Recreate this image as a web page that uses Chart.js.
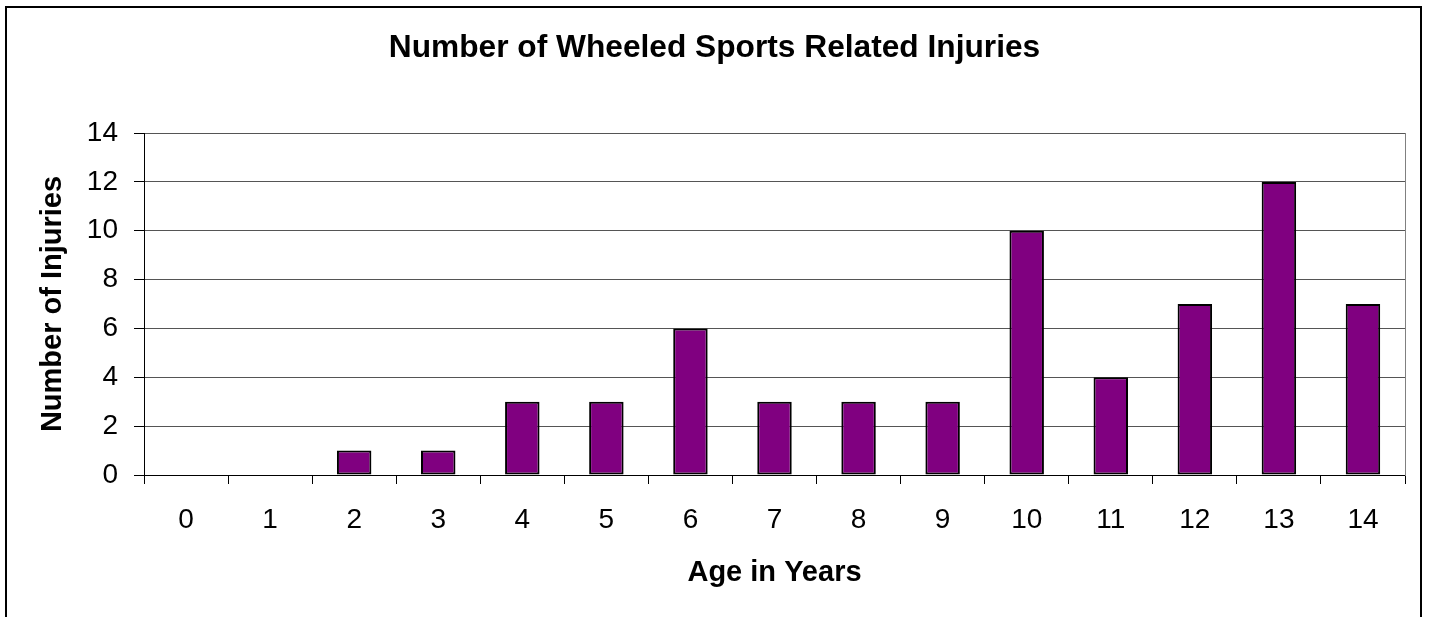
<!DOCTYPE html>
<html>
<head>
<meta charset="utf-8">
<title>Number of Wheeled Sports Related Injuries</title>
<script src="https://cdn.jsdelivr.net/npm/chart.js@4"></script>
<style>
  html, body { margin: 0; padding: 0; background: #fff; overflow: hidden; }
  #wrap { position: relative; width: 1429px; height: 617px; }
  #frame {
    position: absolute; left: 5px; top: 6px; width: 1413px; height: 700px;
    border: 2px solid #000; pointer-events: none;
  }
  canvas { position: absolute; left: 0; top: 0; }
</style>
</head>
<body>
<div id="wrap">
  <canvas id="chart" width="1429" height="617"></canvas>
  <div id="frame"></div>
</div>
<script>
const ages     = ["0", "1", "2", "3", "4", "5", "6", "7", "8", "9", "10", "11", "12", "13", "14"];
const injuries = [0, 0, 1, 1, 3, 3, 6, 3, 3, 3, 10, 4, 7, 12, 7];
const yTicks   = [0, 2, 4, 6, 8, 10, 12, 14];

const FONT = "'Liberation Sans', Arial, sans-serif";

new Chart(document.getElementById("chart"), {
  type: "bar",
  data: {
    labels: ages,
    datasets: [{
      label: "Injuries",
      data: injuries,
      backgroundColor: "#800080",
      borderColor: "#000",
      borderWidth: 2,
      borderSkipped: false,
      barPercentage: 0.41,
      categoryPercentage: 1,
    }],
  },
  options: {
    responsive: false,
    animation: false,
    layout: { padding: 0 },
    plugins: {
      legend: { display: false },
      tooltip: { enabled: false },
      title: {
        display: true,
        text: "Number of Wheeled Sports Related Injuries",
        color: "#000",
        font: { family: FONT, size: 31.7, weight: "bold" },
        padding: { top: 29, bottom: 66 },
      },
    },
    scales: {
      x: {
        grid: {
          offset: true,
          drawOnChartArea: false,
          drawTicks: true,
          tickLength: 9,
          color: "#000",
        },
        border: { display: true, color: "#000", width: 1 },
        ticks: {
          color: "#000",
          font: { family: FONT, size: 28 },
          padding: 19.5,
          maxRotation: 0,
        },
        title: {
          display: true,
          text: "Age in Years",
          color: "#000",
          font: { family: FONT, size: 29, weight: "bold" },
          padding: { top: 0, bottom: 27 },
        },
        afterFit: s => { s.width = s.width; s.height = 142; },
      },
      y: {
        min: 0,
        max: 14,
        afterBuildTicks: s => { s.ticks = yTicks.map(v => ({ value: v })); },
        grid: {
          color: "#555",
          lineWidth: 1,
          tickLength: 10,
          tickColor: "#000",
        },
        border: { display: true, color: "#000", width: 1 },
        ticks: {
          color: "#000",
          font: { family: FONT, size: 28 },
          padding: 16,
        },
        title: {
          display: true,
          text: "Number of Injuries",
          color: "#000",
          font: { family: FONT, size: 29, weight: "bold" },
          padding: { top: 36, bottom: 0 },
        },
        afterFit: s => { s.width = 144; },
      },
      // empty right axis: only its gray line closes the plot area
      y2: {
        position: "right",
        min: 0,
        max: 14,
        grid: { drawOnChartArea: false, drawTicks: false },
        border: { display: true, color: "#808080", width: 1 },
        ticks: { display: false },
        afterFit: s => { s.width = 24; },
      },
    },
  },
});
</script>
</body>
</html>
